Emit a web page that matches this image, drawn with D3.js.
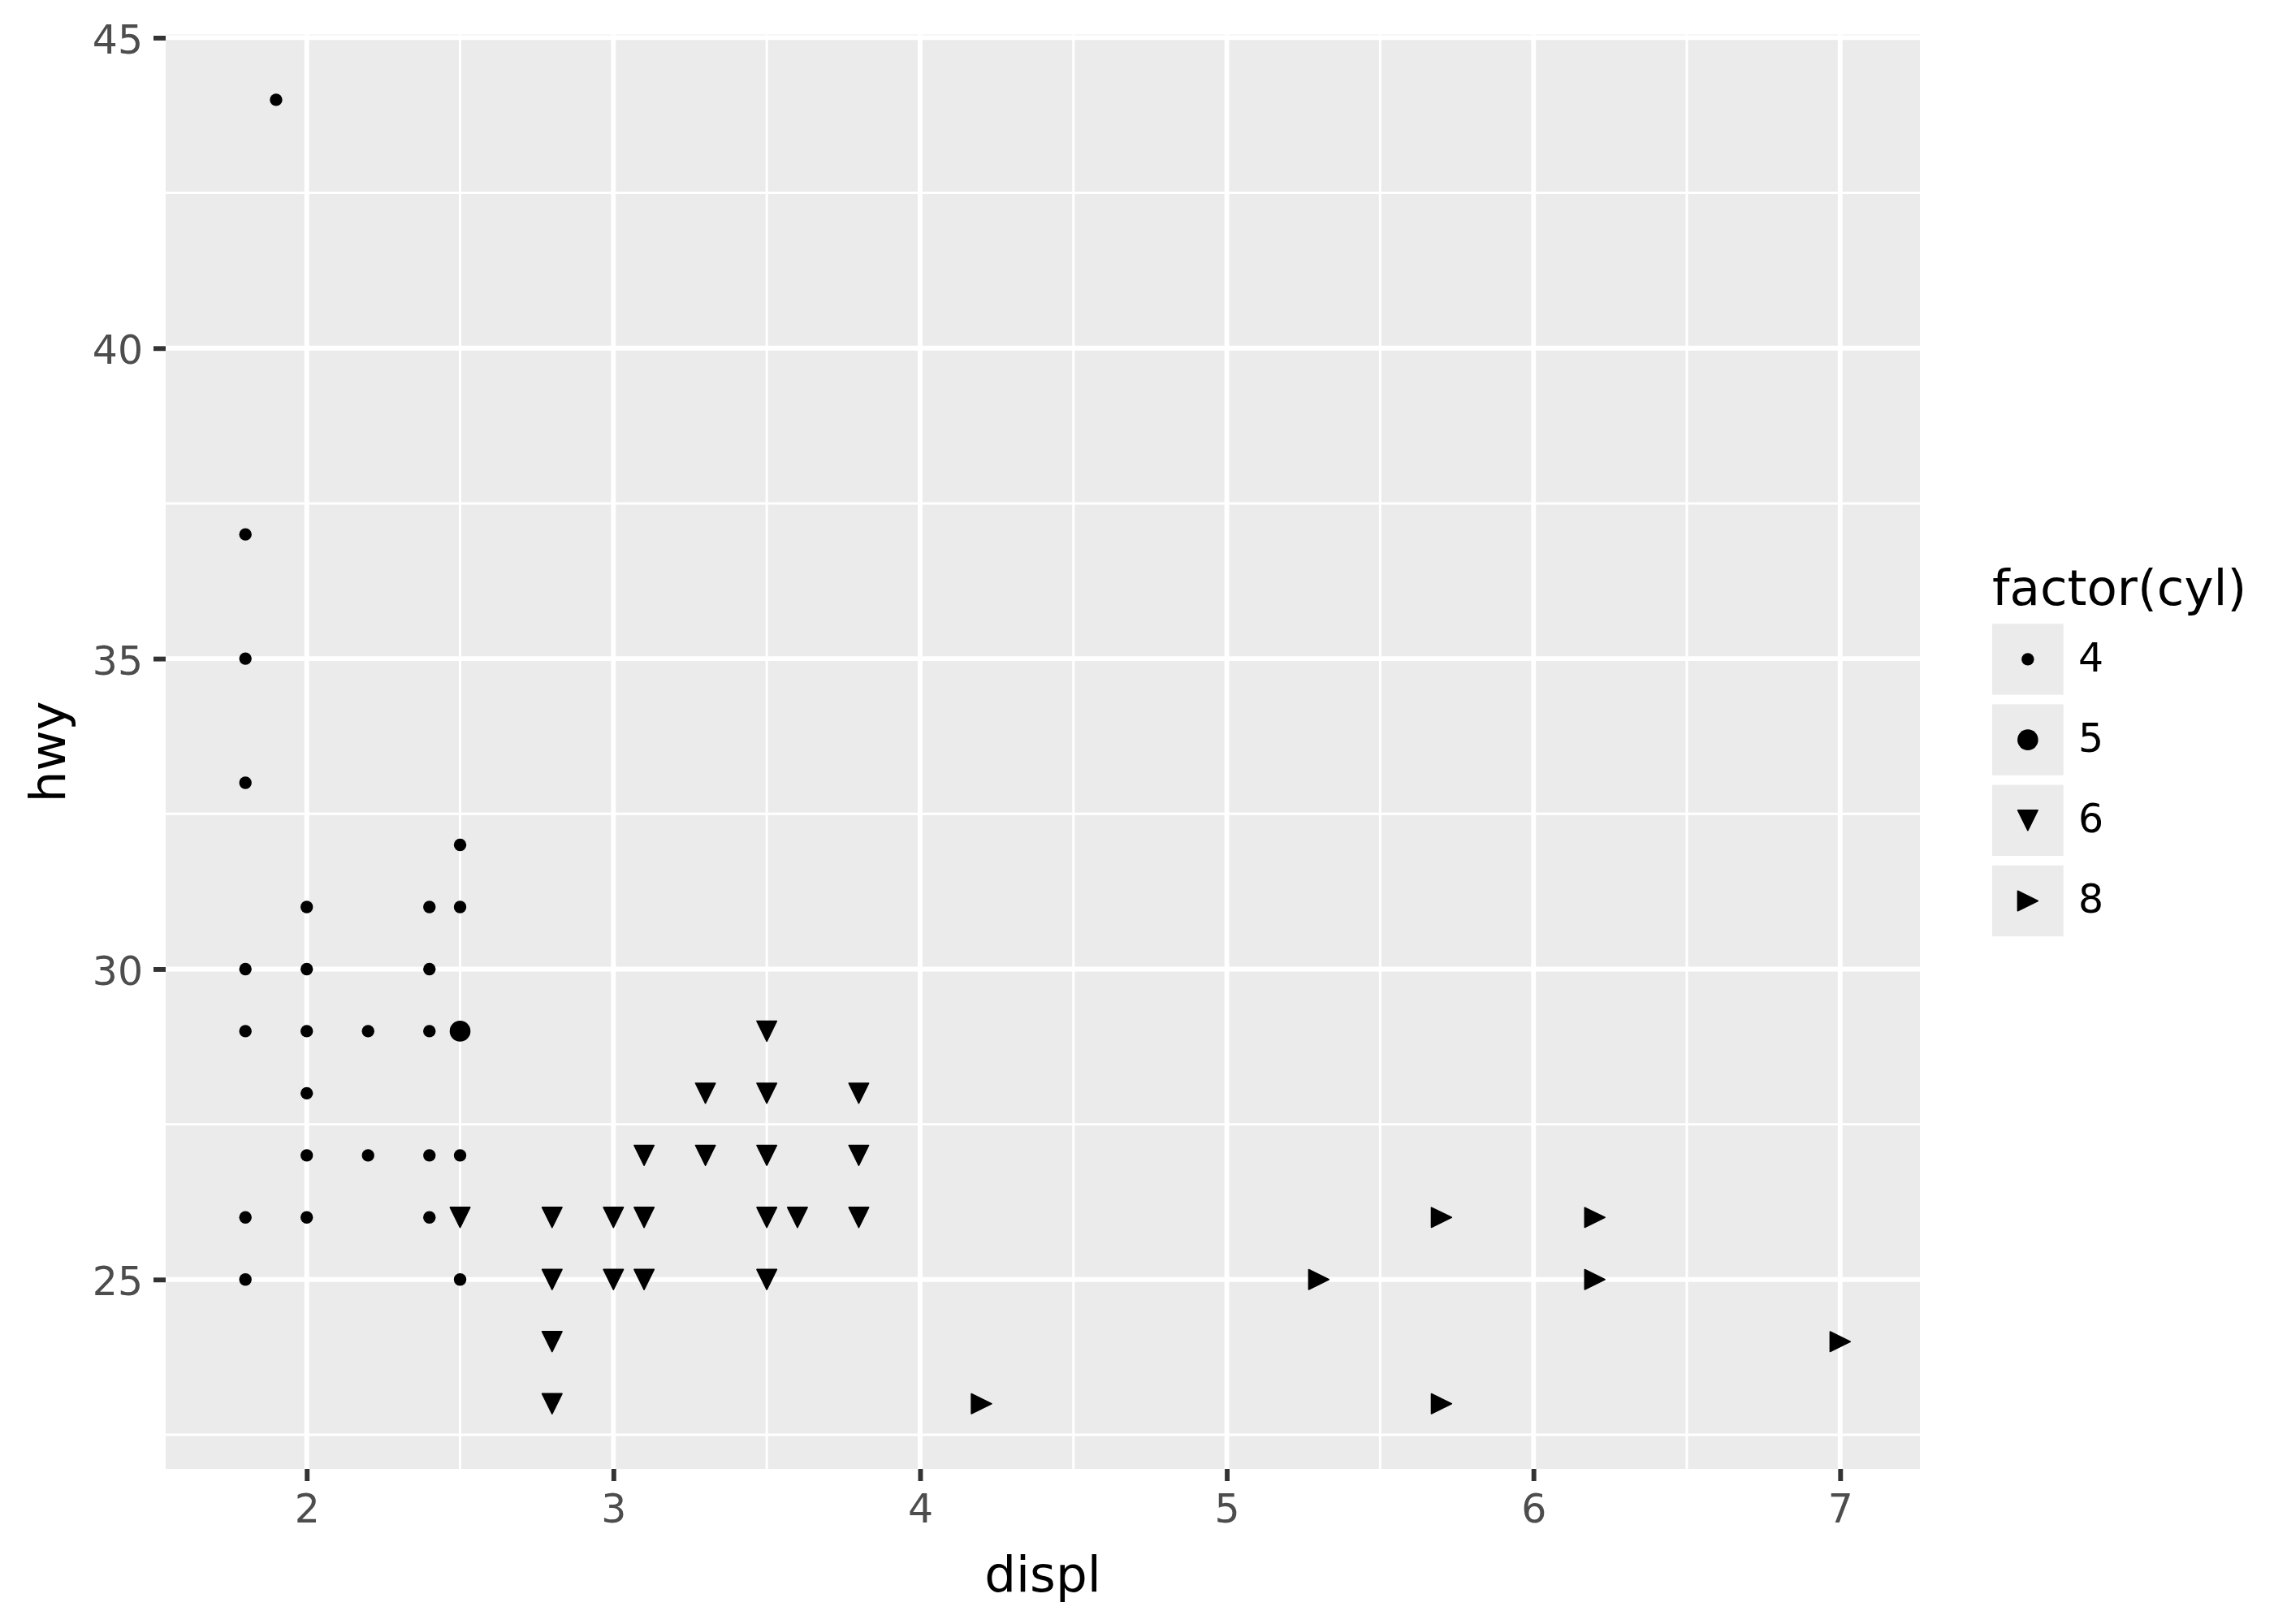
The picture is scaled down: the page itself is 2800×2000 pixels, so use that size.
<!DOCTYPE html>
<html><head><meta charset="utf-8">
<script src="https://cdn.jsdelivr.net/npm/d3@7"></script>
<style>body{margin:0;background:#fff} svg{display:block} text{font-family:"DejaVu Sans",sans-serif}</style>
</head><body><svg id="c" width="2800" height="2000"></svg>
<script>
// ---- data ----
const cylLevels = ["4", "5", "6", "8"];
const cyl4Displ = [1.9, 1.8, 1.8, 1.8, 1.8, 1.8, 1.8, 1.8, 2.0, 2.0, 2.0, 2.0, 2.0, 2.0, 2.2, 2.2, 2.4, 2.4, 2.4, 2.4, 2.4, 2.5, 2.5, 2.5, 2.5];
const cyl4Hwy   = [44, 37, 35, 33, 30, 29, 26, 25, 31, 30, 29, 28, 27, 26, 29, 27, 31, 30, 29, 27, 26, 32, 31, 27, 25];
const cyl5Displ = [2.5];
const cyl5Hwy   = [29];
const cyl6Displ = [2.5, 2.8, 2.8, 2.8, 2.8, 3.0, 3.0, 3.1, 3.1, 3.1, 3.3, 3.3, 3.5, 3.5, 3.5, 3.5, 3.5, 3.6, 3.8, 3.8, 3.8];
const cyl6Hwy   = [26, 26, 25, 24, 23, 26, 25, 27, 26, 25, 28, 27, 29, 28, 27, 26, 25, 26, 28, 27, 26];
const cyl8Displ = [4.2, 5.3, 5.7, 5.7, 6.2, 6.2, 7.0];
const cyl8Hwy   = [23, 25, 26, 23, 26, 25, 24];
const xTicks = [2, 3, 4, 5, 6, 7];
const yTicks = [25, 30, 35, 40, 45];
const xTitle = "displ";
const yTitle = "hwy";
const legendTitle = "factor(cyl)";

// build records
const seriesDispl = [cyl4Displ, cyl5Displ, cyl6Displ, cyl8Displ];
const seriesHwy = [cyl4Hwy, cyl5Hwy, cyl6Hwy, cyl8Hwy];
const points = [];
cylLevels.forEach((c, i) => seriesDispl[i].forEach((d, j) => points.push({cyl: c, displ: d, hwy: seriesHwy[i][j]})));

// ---- layout ----
const P = {left: 204, right: 2364, top: 42.6, bottom: 1809};
const svg = d3.select("#c");

const xe = d3.extent(points, d => d.displ), ye = d3.extent(points, d => d.hwy);
const xpad = (xe[1] - xe[0]) * 0.05, ypad = (ye[1] - ye[0]) * 0.05;
const x = d3.scaleLinear().domain([xe[0] - xpad, xe[1] + xpad]).range([P.left, P.right]);
const y = d3.scaleLinear().domain([ye[0] - ypad, ye[1] + ypad]).range([P.bottom, P.top]);

// panel
svg.append("rect").attr("x", P.left).attr("y", P.top)
  .attr("width", P.right - P.left).attr("height", P.bottom - P.top).attr("fill", "#ebebeb");

const grid = svg.append("g");
const xMinor = d3.range(1.5, 8, 1).filter(v => v > x.domain()[0] && v < x.domain()[1]);
const yMinor = d3.range(22.5, 47.5, 5).filter(v => v > y.domain()[0] && v < y.domain()[1]);
grid.selectAll(".xm").data(xMinor).join("line")
  .attr("x1", d => x(d)).attr("x2", d => x(d)).attr("y1", P.top).attr("y2", P.bottom)
  .attr("stroke", "#fff").attr("stroke-width", 2.96);
grid.selectAll(".ym").data(yMinor).join("line")
  .attr("y1", d => y(d)).attr("y2", d => y(d)).attr("x1", P.left).attr("x2", P.right)
  .attr("stroke", "#fff").attr("stroke-width", 2.96);
grid.selectAll(".xM").data(xTicks).join("line")
  .attr("x1", d => x(d)).attr("x2", d => x(d)).attr("y1", P.top).attr("y2", P.bottom)
  .attr("stroke", "#fff").attr("stroke-width", 5.9);
grid.selectAll(".yM").data(yTicks).join("line")
  .attr("y1", d => y(d)).attr("y2", d => y(d)).attr("x1", P.left).attr("x2", P.right)
  .attr("stroke", "#fff").attr("stroke-width", 5.9);

// axes
const xAxis = svg.append("g").attr("transform", `translate(0,${P.bottom})`)
  .call(d3.axisBottom(x).tickValues(xTicks).tickSize(15).tickFormat(d3.format("d")));
xAxis.select(".domain").remove();
xAxis.selectAll(".tick line").attr("stroke", "#333333").attr("stroke-width", 5.9);
xAxis.selectAll(".tick text").attr("y", 66).attr("dy", 0)
  .attr("font-size", 48.9).attr("fill", "#4d4d4d").attr("font-family", "DejaVu Sans");

const yAxis = svg.append("g").attr("transform", `translate(${P.left},0)`)
  .call(d3.axisLeft(y).tickValues(yTicks).tickSize(15).tickFormat(d3.format("d")));
yAxis.select(".domain").remove();
yAxis.selectAll(".tick line").attr("stroke", "#333333").attr("stroke-width", 5.9);
yAxis.selectAll(".tick text").attr("x", -28).attr("dy", 19)
  .attr("font-size", 48.9).attr("fill", "#4d4d4d").attr("font-family", "DejaVu Sans");

// axis titles
svg.append("text").attr("x", (P.left + P.right) / 2).attr("y", 1960)
  .attr("text-anchor", "middle").attr("font-size", 61.1).attr("fill", "#000").text(xTitle);
svg.append("text").attr("transform", `translate(80,${(P.top + P.bottom) / 2}) rotate(-90)`)
  .attr("text-anchor", "middle").attr("font-size", 61.1).attr("fill", "#000").text(yTitle);

// shapes
const shapePath = {
  "4": d3.symbol(d3.symbolCircle, Math.PI * 7.7 * 7.7)(),
  "5": d3.symbol(d3.symbolCircle, Math.PI * 12.8 * 12.8)(),
  "6": "M-12.2,-12.4L12.2,-12.4L0,12.4Z",
  "8": "M-12.4,-12.2L-12.4,12.2L12.4,0Z"
};
const strokeW = {"4": 0, "5": 0, "6": 1.6, "8": 1.6};

svg.append("g").selectAll("path").data(points).join("path")
  .attr("transform", d => `translate(${x(d.displ)},${y(d.hwy)})`)
  .attr("d", d => shapePath[d.cyl]).attr("fill", "#000")
  .attr("stroke", "#000").attr("stroke-width", d => strokeW[d.cyl]).attr("stroke-linejoin", "round");

// legend
const L = {x: 2453, titleY: 745, keyTop: 768.2, keyW: 87.7, keyH: 87.4, pitch: 99.2};
const lg = svg.append("g");
lg.append("text").attr("x", L.x).attr("y", L.titleY).attr("font-size", 61.1).attr("fill", "#000").text(legendTitle);
const keys = lg.selectAll("g.key").data(cylLevels).join("g").attr("class", "key")
  .attr("transform", (d, i) => `translate(${L.x},${L.keyTop + i * L.pitch})`);
keys.append("rect").attr("width", L.keyW).attr("height", L.keyH).attr("fill", "#ebebeb");
keys.append("path").attr("transform", `translate(${L.keyW / 2},${L.keyH / 2})`)
  .attr("d", d => shapePath[d]).attr("fill", "#000").attr("stroke", "#000")
  .attr("stroke-width", d => strokeW[d]).attr("stroke-linejoin", "round");
keys.append("text").attr("x", 106).attr("y", L.keyH / 2 + 15)
  .attr("font-size", 48.9).attr("fill", "#000").text(d => d);
</script></body></html>
